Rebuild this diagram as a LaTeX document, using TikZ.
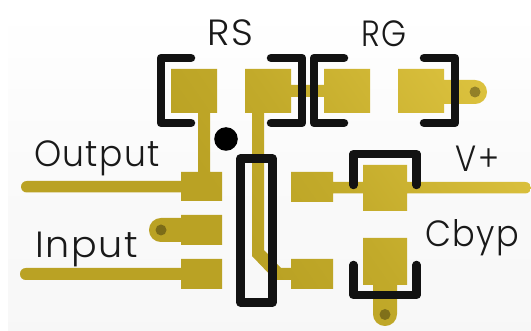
\documentclass[tikz,border=0pt]{standalone}
\usepackage{fontspec}
\newfontfamily\lab[LetterSpace=4]{Poppins Light}
\definecolor{goldD}{HTML}{BAA224}
\definecolor{goldM}{HTML}{C2AA2A}
\definecolor{goldL}{HTML}{E4C944}
\pgfdeclareverticalshading{goldshade}{100bp}{color(0bp)=(goldD); color(42bp)=(goldD); color(50bp)=(goldM); color(70bp)=(goldL); color(100bp)=(goldL)}
\newcommand{\txt}[3]{\scalebox{#1}[#2]{#3}}
\tikzset{
  x=1pt,y=-1pt,
  silk/.style={draw=black!93,line width=8.5pt,line join=round,line cap=round},
  via/.style={fill=black,fill opacity=.33},
  label/.style={inner sep=0pt,anchor=base,font=\lab\fontsize{32}{32}\selectfont,text=black!90}
}
\begin{document}
\begin{tikzpicture}
\useasboundingbox (0,0) rectangle (531,331);
\fill[white] (0,0) rectangle (531,331);
\shade[shading angle=-45,bottom color=black!3,top color=white,middle color=black!2] (8,10) rectangle (531,331);
% copper, one gradient across all shapes
\begin{scope}
\clip
  (171,69) rectangle (217,113)
  (245,69) rectangle (291,113)
  (324,69) rectangle (370,113)
  (398,69) rectangle (444,113)
  (198,110) rectangle (210,175)
  (285,85) rectangle (330,97)
  (181,172) rectangle (222,201)
  (181,215) rectangle (222,245)
  (181,259) rectangle (222,289)
  (291,172) rectangle (333,202)
  (291,259) rectangle (333,289)
  (363,165) rectangle (407,211)
  (363,238) rectangle (407,285)
  [rounded corners=5.8pt] (21,181) rectangle (190,192.5)
  [rounded corners=5.8pt] (20,268) rectangle (190,280)
  [rounded corners=5.8pt] (325,182) rectangle (531,193.5)
  [rounded corners=11.9pt] (149,218) rectangle (195,242)
  [rounded corners=11.9pt] (430,80) rectangle (487,104)
  [rounded corners=11.9pt] (373,270) rectangle (397,326)
  [sharp corners] (252,110) -- (252,256) -- (275,280) -- (295,280) -- (295,268) -- (281,268) -- (264,250) -- (264,110) -- cycle;
\shade[shading=goldshade,shading angle=-55] (-4,-160) rectangle (600,444);
\end{scope}
\fill[via] (161,230) circle[radius=5.5pt];
\fill[via] (475,92) circle[radius=5.5pt];
\fill[via] (385,314.5) circle[radius=5.5pt];
% silkscreen
\draw[silk] (191,58) -- (161,58) -- (161,123) -- (191,123);
\draw[silk] (271,58) -- (302,58) -- (302,123) -- (271,123);
\draw[silk] (344,58) -- (314,58) -- (314,123) -- (344,123);
\draw[silk] (424,58) -- (455,58) -- (455,123) -- (424,123);
\draw[silk] (240.5,158.5) rectangle (272.5,302.5);
\draw[silk] (353.5,185) -- (353.5,154) -- (416.5,154) -- (416.5,185);
\draw[silk] (353.5,265) -- (353.5,295) -- (416.5,295) -- (416.5,265);
\fill[black] (226,139) circle[radius=11.8pt];
% labels
\node[label] (rs) at (230.5,46) {\txt{1.19}{1.14}{RS}};
\node[label] (rg) at (384.5,47) {\txt{1}{1.14}{RG}};
\node[label] (out) at (97,167) {\txt{1.08}{1.14}{Output}};
\node[label] (inp) at (86.5,258) {\txt{1.19}{1.14}{Input}};
\node[label] (vp) at (477.5,172) {\txt{1}{1.14}{V+}};
\node[label] (cb) at (472,247) {\txt{1.05}{1.14}{Cbyp}};
\end{tikzpicture}
\end{document}
